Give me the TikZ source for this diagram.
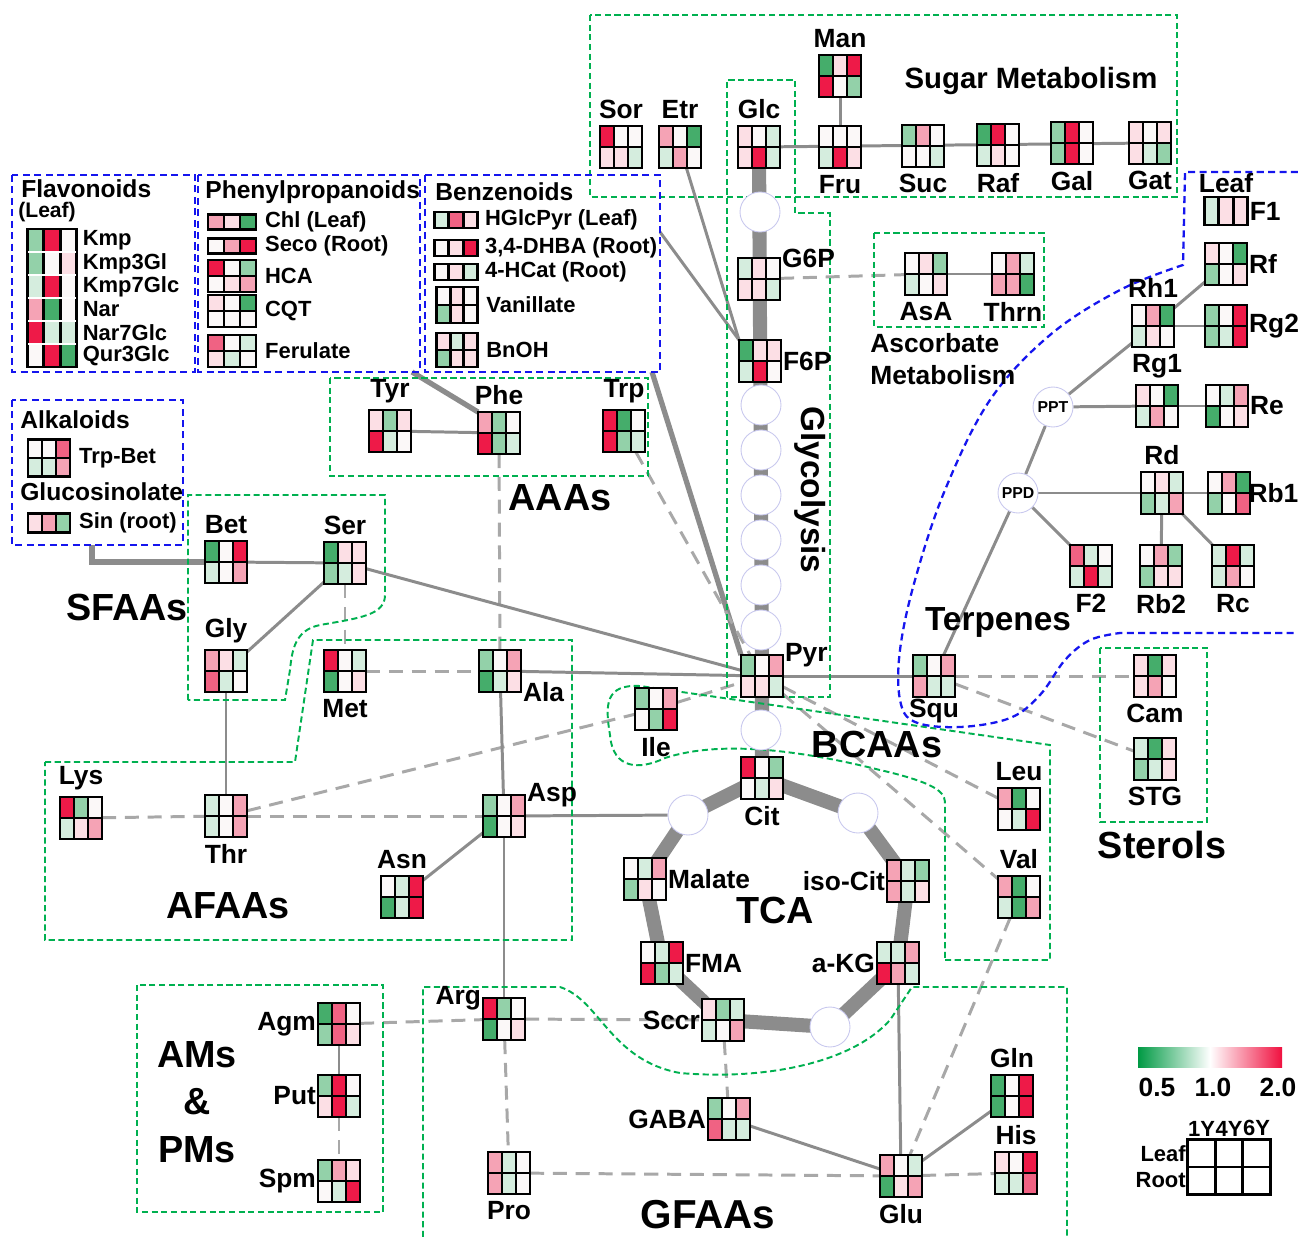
\documentclass[tikz,border=0pt]{standalone}
\usepackage{fontspec}
\setmainfont{Liberation Sans}
\usetikzlibrary{calc,positioning,backgrounds}
\definecolor{gA}{HTML}{45AD6B}
\definecolor{gB}{HTML}{93D1A9}
\definecolor{gC}{HTML}{D5EDDE}
\definecolor{wW}{HTML}{FBF8F8}
\definecolor{pC}{HTML}{FCDFE5}
\definecolor{pB}{HTML}{F5A3B5}
\definecolor{pA}{HTML}{F06283}
\definecolor{rA}{HTML}{EE1A48}
\definecolor{boxgreen}{HTML}{00B050}
\definecolor{boxblue}{HTML}{1515EE}
\definecolor{connG}{HTML}{8C8C8C}
\definecolor{dashG}{HTML}{A8A8A8}
\definecolor{enzline}{HTML}{C8C8EE}
\definecolor{barG}{HTML}{009A44}
\definecolor{barR}{HTML}{F0103F}

% heat map: name, position, cell width, cell height, rows, colours
\newcommand{\hgrid}[6]{%
  \node[hmbox,minimum width={3*#3*0.02cm},minimum height={#5*#4*0.02cm}] (#1) at (#2) {};
  \foreach \hc [count=\k from 0] in {#6} {
    \pgfmathtruncatemacro{\hcol}{mod(\k,3)}
    \pgfmathtruncatemacro{\hrow}{floor(\k/3)}
    \fill[\hc] ($(#1.north west)+(\hcol*#3,\hrow*#4)$) rectangle ++(#3,#4);
  }
  \draw[hmline] (#1.north west) rectangle (#1.south east);
  \draw[hmline] ($(#1.north west)+(#3,0)$) -- ($(#1.south west)+(#3,0)$);
  \draw[hmline] ($(#1.north west)+(2*#3,0)$) -- ($(#1.south west)+(2*#3,0)$);
  \ifnum#5=2 \draw[hmline] (#1.west) -- (#1.east);\fi
}
\newcommand{\hmap}[3]{\hgrid{#1}{#2}{14}{21}{2}{#3}}

\begin{document}
\begin{tikzpicture}[x={(0.02cm,0)},y={(0,-0.02cm)},font=\bfseries,
  hmbox/.style={rectangle,inner sep=0pt,outer sep=0pt},
  hmline/.style={black,line width=1.5pt},
  mlab/.style={font=\bfseries\fontsize{15}{17}\selectfont,inner sep=1pt},
  ilab/.style={font=\bfseries\fontsize{12.5}{14}\selectfont,inner sep=1pt,anchor=west},
  ttl/.style={font=\bfseries\fontsize{14}{16}\selectfont,inner sep=0pt,anchor=west},
  glab/.style={font=\bfseries\fontsize{21.5}{26}\selectfont,inner sep=0pt},
  enz/.style={circle,draw=enzline,fill=white,line width=0.5pt,minimum size=0.8cm,inner sep=0pt},
  conn/.style={draw=connG,line width=1.7pt},
  dconn/.style={draw=dashG,line width=1.7pt,dash pattern=on 8pt off 5pt},
  thconn/.style={draw=connG,line width=3pt},
  fluxbar/.style={draw=connG,line width=8pt,line join=round},
  grpbox/.style={draw=boxgreen,line width=1.1pt,dash pattern=on 3.5pt off 2pt},
  clsbox/.style={draw=boxblue,line width=1.3pt,dash pattern=on 4pt off 2.5pt}]
\useasboundingbox (0,0) rectangle (1298,1237);

% group frames
\draw[grpbox] (590,15) rectangle (1177,197);
\draw[grpbox] (727,697) -- (727,80) -- (795,80) -- (795,213) -- (830,213) -- (830,697) -- cycle;
\draw[grpbox] (874,233) rectangle (1044,327);
\draw[grpbox] (330,378) rectangle (648,476);
\draw[grpbox] (1100,648) rectangle (1207,822);
\draw[grpbox] (137,985) rectangle (383,1212);
\draw[grpbox] (188,700) -- (188,495) -- (385,495) -- (385,595) .. controls (385,615) and (360,618) .. (320,625) .. controls (295,630) and (292,650) .. (290,670) -- (285,700) -- cycle;
\draw[grpbox] (45,762) -- (295,762) -- (313,640) -- (572,640) -- (572,940) -- (45,940) -- cycle;
\draw[grpbox] (945,960) -- (1050,960) -- (1050,745) -- (640,686) .. controls (605,684) and (605,705) .. (610,735) .. controls (613,770) and (640,770) .. (665,758) .. controls (720,740) and (800,750) .. (880,770) .. controls (945,785) and (945,795) .. (945,805) -- cycle;
\draw[grpbox] (423,1237) -- (423,987) -- (560,987) .. controls (600,1000) and (610,1060) .. (680,1073) .. controls (760,1080) and (850,1065) .. (890,1020) -- (912,987) -- (1067,987) -- (1067,1237);
\draw[clsbox] (12,175) rectangle (195,372);
\draw[clsbox] (198,175) rectangle (420,372);
\draw[clsbox] (425,175) rectangle (660,372);
\draw[clsbox] (12,400) rectangle (183,545);
\draw[clsbox] (1298,172) -- (1185,172) -- plot[smooth,tension=0.6] coordinates {(1183,265) (1120,290) (1050,335) (990,400) (945,490) (915,580) (900,650) (900,700) (915,722) (960,727) (1010,718) (1040,695) (1065,660) (1090,640) (1120,633)} -- (1298,633);

% sugar metabolism
\node[font=\bfseries\fontsize{16.7}{19}\selectfont] (sugT) at (1031,81) {Sugar Metabolism};
\hmap{Sor}{621,147}{rA,wW,wW,pC,pC,gC}
\node[mlab,above=3pt of Sor] (SorL) {Sor};
\hmap{Etr}{680,147}{pB,wW,gA,gC,pB,wW}
\node[mlab,above=3pt of Etr] (EtrL) {Etr};
\hmap{Glc}{759,147}{pC,wW,gC,pC,rA,gC}
\node[mlab,above=3pt of Glc] (GlcL) {Glc};
\hmap{Man}{840,76}{gA,pC,rA,rA,wW,gB}
\node[mlab,above=3pt of Man] (ManL) {Man};
\hmap{Fru}{840,147}{wW,wW,wW,gC,rA,pC}
\node[mlab,below=3pt of Fru] (FruL) {Fru};
\hmap{Suc}{923,146}{gB,pB,wW,wW,wW,gC}
\node[mlab,below=3pt of Suc] (SucL) {Suc};
\hmap{Raf}{998,145}{gA,rA,wW,gC,pC,wW}
\node[mlab,below=3pt of Raf] (RafL) {Raf};
\hmap{Gal}{1072,143}{gB,rA,wW,gB,rA,wW}
\node[mlab,below=3pt of Gal] (GalL) {Gal};
\hmap{Gat}{1150,143}{pC,wW,pC,pC,gC,gB}
\node[mlab,below=3pt of Gat] (GatL) {Gat};

% glycolysis
\node[enz] (g1) at (760,212) {};
\hmap{G6P}{759,279}{gC,pC,wW,pC,pC,gC}
\node[mlab,right=0pt of G6P.north east] (G6PL) {G6P};
\hmap{F6P}{760,361}{gA,pC,pC,gC,rA,wW}
\node[mlab,right=0pt of F6P.east] (F6PL) {F6P};
\foreach \i/\y in {2/405,3/450,4/495,5/540,6/585,7/630}
  \node[enz] (g\i) at (761,\y) {};
\hmap{Pyr}{762,676}{gB,wW,pB,pC,pC,gC}
\node[mlab,right=0pt of Pyr.north east] (PyrL) {Pyr};
\node[font=\bfseries\fontsize{19}{21}\selectfont,rotate=-90] (glyT) at (810,490) {Glycolysis};

% ascorbate
\hmap{AsA}{926,274}{wW,pC,gB,gC,wW,pC}
\node[mlab,below=3pt of AsA] (AsAL) {AsA};
\hmap{Thrn}{1013,274}{wW,pB,gC,pB,pB,gA}
\node[mlab,below=3pt of Thrn] (ThrnL) {Thrn};
\node[font=\bfseries\fontsize{15}{18}\selectfont,align=left,anchor=north west,inner sep=0pt] (ascT) at (870,333) {Ascorbate\\Metabolism};

% terpenes
\hgrid{F1}{1226,211}{14.5}{28}{1}{gC,pC,pC}
\node[mlab,above=1pt of F1] (LeafT) {Leaf};
\node[mlab,right=0pt of F1] (F1L) {F1};
\hmap{Rf}{1226,264}{pC,wW,gA,gB,wW,pC}
\node[mlab,right=0pt of Rf] (RfL) {Rf};
\hmap{Rh1}{1153,326}{wW,pB,gA,gC,pC,wW}
\node[mlab,above=3pt of Rh1] (Rh1L) {Rh1};
\hmap{Rg2}{1226,326}{gB,wW,rA,gB,gC,rA}
\node[mlab,right=0pt of Rg2] (Rg2L) {Rg2};
\hmap{Rg1}{1157,406}{pC,wW,gA,gC,pB,wW}
\node[mlab,above=3pt of Rg1] (Rg1L) {Rg1};
\hmap{Re}{1227,406}{wW,gC,pB,gA,wW,pC}
\node[mlab,right=0pt of Re] (ReL) {Re};
\node[enz,font=\bfseries\fontsize{9}{10}\selectfont] (PPT) at (1053,407) {PPT};
\hmap{Rd}{1162,493}{wW,pC,gC,gB,gC,pB}
\node[mlab,above=3pt of Rd] (RdL) {Rd};
\hmap{Rb1}{1229,493}{wW,pB,gA,gB,wW,pA}
\node[mlab,right=-1pt of Rb1,inner sep=0pt] (Rb1L) {Rb1};
\node[enz,font=\bfseries\fontsize{9}{10}\selectfont] (PPD) at (1018,493) {PPD};
\hmap{F2}{1091,566}{pA,gC,wW,gC,rA,gC}
\node[mlab,below=3pt of F2] (F2L) {F2};
\hmap{Rb2}{1161,566}{wW,pB,gB,gB,pC,pC}
\node[mlab,below=3pt of Rb2] (Rb2L) {Rb2};
\hmap{Rc}{1233,566}{gC,rA,gC,gC,pB,wW}
\node[mlab,below=3pt of Rc] (RcL) {Rc};
\node[font=\bfseries\fontsize{19}{21}\selectfont] (terT) at (998,622) {Terpenes};
\hmap{Squ}{934,676}{gB,wW,pB,pB,gC,gC}
\node[mlab,below=0pt of Squ] (SquL) {Squ};

% sterols
\hmap{Cam}{1155,676}{pC,gA,pC,pC,pB,wW}
\node[mlab,below=3pt of Cam] (CamL) {Cam};
\hmap{STG}{1155,759}{gC,gA,pC,gB,gC,pC}
\node[mlab,below=3pt of STG] (STGL) {STG};
\node[glab] (sterT) at (1162,845) {Sterols};

% BCAAs and TCA
\hmap{Ile}{656,709}{gB,wW,pB,wW,gB,rA}
\node[mlab,below=3pt of Ile] (IleL) {Ile};
\node[glab] (bcT) at (877,744) {BCAAs};
\hmap{Leu}{1019,809}{pB,gA,wW,wW,gC,rA}
\node[mlab,above=3pt of Leu] (LeuL) {Leu};
\hmap{Val}{1019,897}{pB,gA,wW,gC,gA,pB}
\node[mlab,above=3pt of Val] (ValL) {Val};
\node[enz] (t0) at (761,730) {};
\hmap{Cit}{762,778}{rA,wW,gB,wW,gC,pC}
\node[mlab,below=3pt of Cit] (CitL) {Cit};
\node[enz] (tUL) at (688,815) {};
\node[enz] (tUR) at (858,813) {};
\hmap{Malate}{645,879}{wW,gC,pB,gB,pC,wW}
\node[mlab,right=0pt of Malate] (MalateL) {Malate};
\hmap{isoCit}{908,881}{pB,gC,gB,pB,gC,pC}
\node[mlab,left=0pt of isoCit] (isoCitL) {iso-Cit};
\hmap{FMA}{662,963}{wW,gC,rA,rA,gB,gC}
\node[mlab,right=0pt of FMA] (FMAL) {FMA};
\hmap{aKG}{898,963}{gC,gC,pB,rA,pB,gC}
\node[mlab,left=0pt of aKG] (aKGL) {a-KG};
\hmap{Sccr}{723,1020}{pC,gB,gC,gC,wW,pB}
\node[mlab,left=0pt of Sccr] (SccrL) {Sccr};
\node[enz] (tBR) at (830,1027) {};
\node[glab] (tcaT) at (775,910) {TCA};

% amino acids
\hmap{Tyr}{390,431}{pC,gB,pC,rA,gC,wW}
\node[mlab,above=3pt of Tyr] (TyrL) {Tyr};
\hmap{Phe}{499,433}{pB,gB,wW,rA,gB,gC}
\node[mlab,above=3pt of Phe] (PheL) {Phe};
\hmap{Trp}{624,431}{rA,gA,wW,rA,gB,gC}
\node[mlab,above=3pt of Trp] (TrpL) {Trp};
\node[glab] (aaaT) at (560,498) {AAAs};
\hmap{Bet}{226,562}{gA,wW,rA,gC,wW,pB}
\node[mlab,above=3pt of Bet] (BetL) {Bet};
\hmap{Ser}{345,563}{gA,pC,pC,gB,gC,pC}
\node[mlab,above=3pt of Ser] (SerL) {Ser};
\hmap{Gly}{226,671}{pB,pC,gC,pA,gC,wW}
\node[mlab,above=3pt of Gly] (GlyL) {Gly};
\node[glab] (sfT) at (127,607) {SFAAs};
\hmap{Met}{345,671}{rA,wW,gC,gA,wW,pC}
\node[mlab,below=3pt of Met] (MetL) {Met};
\hmap{Ala}{500,671}{gB,wW,pB,gA,gC,pC}
\node[mlab,right=0pt of Ala.south east] (AlaL) {Ala};
\hmap{Lys}{81,818}{rA,gB,wW,gC,pC,pB}
\node[mlab,above=3pt of Lys] (LysL) {Lys};
\hmap{Thr}{226,816}{gC,wW,pB,gC,wW,pB}
\node[mlab,below=3pt of Thr] (ThrL) {Thr};
\hmap{Asp}{504,816}{gB,wW,pB,gA,wW,pC}
\node[mlab,right=0pt of Asp.north east] (AspL) {Asp};
\hmap{Asn}{402,897}{wW,gC,rA,gA,gC,rA}
\node[mlab,above=3pt of Asn] (AsnL) {Asn};
\node[glab] (afT) at (228,906) {AFAAs};

% amines and polyamines
\hmap{Agm}{339,1024}{gA,pA,wW,gB,pA,pC}
\node[mlab,left=0pt of Agm] (AgmL) {Agm};
\hmap{Put}{339,1096}{gB,rA,wW,pC,rA,gC}
\node[mlab,left=0pt of Put] (PutL) {Put};
\hmap{Spm}{339,1181}{gB,pB,pC,wW,gC,rA}
\node[mlab,left=0pt of Spm] (SpmL) {Spm};
\node[glab,align=center,font=\bfseries\fontsize{21.5}{27}\selectfont] (amT) at (197,1102) {AMs\\\&\\PMs};

% glutamate family
\hmap{Arg}{504,1019}{rA,gB,wW,gA,wW,pC}
\node[mlab,left=0pt of Arg.north west] (ArgL) {Arg};
\hmap{Pro}{509,1173}{pB,gC,wW,pB,gC,wW}
\node[mlab,below=3pt of Pro] (ProL) {Pro};
\hmap{GABA}{729,1119}{gB,wW,pB,pA,gC,gC}
\node[mlab,left=0pt of GABA] (GABAL) {GABA};
\hmap{Glu}{901,1176}{pB,wW,gC,gA,pC,pB}
\node[mlab,below=3pt of Glu] (GluL) {Glu};
\hmap{Gln}{1012,1096}{gA,wW,rA,gA,wW,rA}
\node[mlab,above=3pt of Gln] (GlnL) {Gln};
\hmap{His}{1016,1173}{pC,wW,rA,gC,gC,pA}
\node[mlab,above=3pt of His] (HisL) {His};
\node[glab,font=\bfseries\fontsize{23}{26}\selectfont] (gfT) at (708,1215) {GFAAs};

% flavonoids
\node[ttl] (flavT) at (21,189) {Flavonoids};
\node[ilab,inner sep=0pt,font=\bfseries\fontsize{12}{13}\selectfont] (flavS) at (18,212) {(Leaf)};
\hgrid{flav}{52,298}{16.5}{23}{6}{gB,rA,wW,gB,wW,pC,gC,rA,wW,pB,gA,wW,rA,gC,gC,wW,rA,gA}
\foreach \j in {1,...,5}
  \draw[white,line width=1pt] ($(flav.north west)+(1,\j*23)$) -- ($(flav.north east)+(-1,\j*23)$);
\foreach \nm [count=\i] in {Kmp,Kmp3Gl,Kmp7Glc,Nar,Nar7Glc,Qur3Glc}
  \node[ilab] (flav\i) at ($(flav.north east)+(4,\i*23-11.5)$) {\nm};

% phenylpropanoids
\node[ttl] (phenT) at (205,192) {Phenylpropanoids};
\hgrid{Chl}{232,222}{16}{15}{1}{pB,pC,gA}
\node[ilab,right=4pt of Chl] (ChlL) {Chl (Leaf)};
\hgrid{Seco}{232,246}{16}{15}{1}{wW,pB,rA}
\node[ilab,right=4pt of Seco] (SecoL) {Seco (Root)};
\hgrid{HCA}{232,276}{16}{16}{2}{rA,wW,gB,wW,pC,pB}
\node[ilab,right=4pt of HCA] (HCAL) {HCA};
\hgrid{CQT}{232,311}{16}{16}{2}{pC,wW,gA,wW,wW,wW}
\node[ilab,right=4pt of CQT] (CQTL) {CQT};
\hgrid{Fer}{232,351}{16}{16}{2}{pA,wW,gC,pC,gC,wW}
\node[ilab,right=4pt of Fer] (FerL) {Ferulate};

% benzenoids
\node[ttl] (benzT) at (435,192) {Benzenoids};
\hgrid{HGlcPyr}{456,220}{14.5}{16}{1}{gC,pA,pC}
\node[ilab,right=3pt of HGlcPyr] (HGlcPyrL) {HGlcPyr (Leaf)};
\hgrid{DHBA}{456,248}{14.5}{16}{1}{wW,pC,rA}
\node[ilab,right=3pt of DHBA] (DHBAL) {3,4-DHBA (Root)};
\hgrid{HCat}{456,272}{14.5}{16}{1}{wW,pC,gC}
\node[ilab,right=3pt of HCat] (HCatL) {4-HCat (Root)};
\hgrid{Van}{457,305}{13.5}{18}{2}{wW,pC,wW,gB,pC,wW}
\node[ilab,right=4pt of Van] (VanL) {Vanillate};
\hgrid{BnOH}{457,350}{13.5}{17}{2}{pC,gC,pC,gB,pC,pC}
\node[ilab,right=4pt of BnOH] (BnOHL) {BnOH};

% alkaloids and glucosinolate
\node[ttl] (alkT) at (20,420) {Alkaloids};
\hgrid{TrpBet}{49,458}{14}{18.5}{2}{wW,wW,pA,gC,gC,pB}
\node[ilab,right=4pt of TrpBet] (TrpBetL) {Trp-Bet};
\node[ttl] (glsT) at (20,492) {Glucosinolate};
\hgrid{Sin}{49,523}{14}{19}{1}{pC,pB,gB}
\node[ilab,right=4pt of Sin] (SinL) {Sin (root)};

% key
\shade[left color=barG,right color=barR,middle color=white] (1138,1047) rectangle (1282,1067);
\node[mlab] (k05) at (1157,1087) {0.5};
\node[mlab] (k10) at (1213,1087) {1.0};
\node[mlab] (k20) at (1278,1087) {2.0};
\hgrid{key}{1229,1167}{27.5}{27.5}{2}{white,white,white,white,white,white}
\foreach \t [count=\i] in {1Y,4Y,6Y}
  \node[ilab,anchor=south,inner sep=0pt] (key\t) at ($(key.north west)+(\i*27.5-13.75,-3)$) {\t};
\node[ilab,anchor=east,inner sep=1pt] (keyLeaf) at ($(key.north west)+(0,14)$) {Leaf};
\node[ilab,anchor=east,inner sep=1pt] (keyRoot) at ($(key.north west)+(0,41)$) {Root};

% connectors
\coordinate (bzR) at (660,232);
\coordinate (bzB) at (652,372);
\coordinate (ppB) at (412,372);
\coordinate (akB) at (92,545);
\begin{pgfonlayer}{background}
\draw[fluxbar] (Glc.center) -- (Pyr.center) -- (Cit.center);
\draw[fluxbar] (Cit.center) -- (tUR.center) -- (isoCit.center) -- (aKG.center) -- (tBR.center) -- (Sccr.center) -- (FMA.center) -- (Malate.center) -- (tUL.center) -- cycle;
\draw[conn] (Glc) -- (Gat);
\draw[conn] (Man) -- (Fru);
\draw[conn] (Etr) -- (F6P.north west);
\draw[conn] (bzR) -- (F6P.north west);
\draw[thconn] (ppB) -- (Phe.north west);
\draw[thconn] (bzB) -- (Pyr.north west);
\draw[dconn] (G6P) -- (AsA);
\draw[conn] (AsA) -- (Thrn);
\draw[conn] (Rh1) -- (Rf);
\draw[conn] (Rh1) -- (Rg2);
\draw[conn] (PPT) -- (Rh1);
\draw[conn] (PPT) -- (Rg1);
\draw[conn] (Rg1) -- (Re);
\draw[conn] (PPT) -- (PPD);
\draw[conn] (PPD) -- (Rd);
\draw[conn] (Rd) -- (Rb1);
\draw[conn] (PPD) -- (F2);
\draw[conn] (Rd) -- (Rb2);
\draw[conn] (Rd) -- (Rc);
\draw[conn] (PPD) -- (Squ);
\draw[conn] (Pyr) -- (Squ);
\draw[dconn] (Squ) -- (Cam);
\draw[dconn] (Squ) -- (STG);
\draw[conn] (Tyr) -- (Phe);
\draw[dconn] (Phe) -- (Ala);
\draw[dconn] (Trp) -- (Pyr);
\draw[thconn] (akB) |- (Bet);
\draw[conn] (Bet) -- (Ser);
\draw[conn] (Ser) -- (Gly);
\draw[conn] (Ser) -- (Pyr);
\draw[dconn] (Ser) -- (Met);
\draw[conn] (Gly) -- (Thr);
\draw[dconn] (Met) -- (Ala);
\draw[conn] (Ala) -- (Pyr);
\draw[dconn] (Lys) -- (Thr);
\draw[dconn] (Thr) -- (Asp);
\draw[dconn] (Thr) -- (Ile);
\draw[dconn] (Ile) -- (Pyr);
\draw[conn] (Ala) -- (Asp);
\draw[conn] (Asp) -- (Arg);
\draw[conn] (Asp) -- (Asn);
\draw[conn] (Asp) -- (tUL);
\draw[dconn] (Pyr) -- (Leu);
\draw[dconn] (Pyr) -- (Val);
\draw[conn] (Agm) -- (Put);
\draw[dconn] (Put) -- (Spm);
\draw[dconn] (Agm) -- (Arg);
\draw[dconn] (Arg) -- (Sccr);
\draw[dconn] (Arg) -- (Pro);
\draw[dconn] (Pro) -- (Glu);
\draw[dconn] (Glu) -- (His);
\draw[conn] (Glu) -- (Gln);
\draw[conn] (GABA) -- (Glu);
\draw[dconn] (Sccr) -- (GABA);
\draw[conn] (aKG) -- (Glu);
\draw[dconn] (Val) -- (Glu);
\end{pgfonlayer}
\end{tikzpicture}
\end{document}
